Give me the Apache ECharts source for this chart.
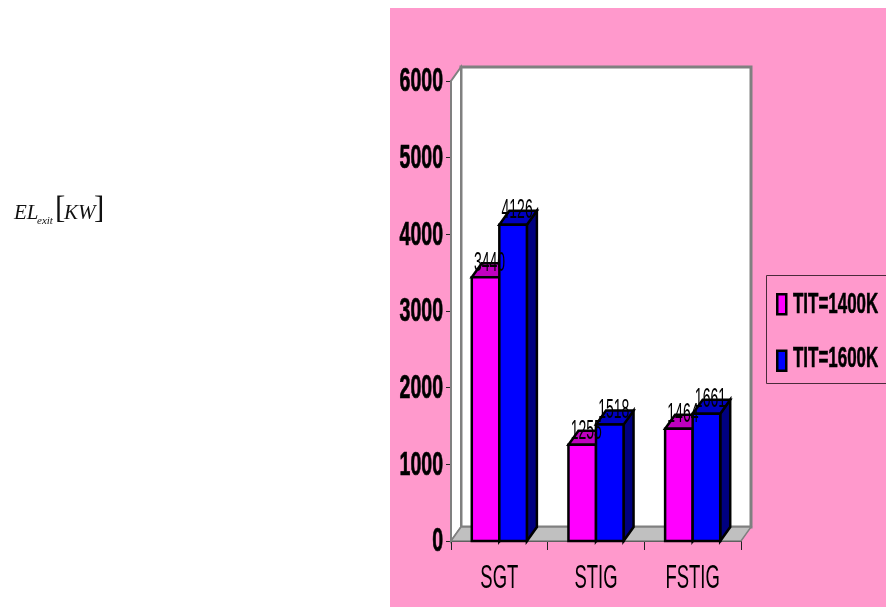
<!DOCTYPE html>
<html>
<head>
<meta charset="utf-8">
<style>html,body{margin:0;padding:0;background:#fff}#chart{width:886px;height:607px}</style>
<script src="https://cdn.jsdelivr.net/npm/echarts@6/dist/echarts.min.js"></script>
</head>
<body>
<div id="chart"></div>
<script>
// Exit exergy loss per cycle at two turbine inlet temperatures
const categories = ['SGT', 'STIG', 'FSTIG'];
const tit1400 = [3440, 1255, 1464];
const tit1600 = [4126, 1518, 1661];
const seriesNames = ['TIT=1400K', 'TIT=1600K'];
const yTicks = [0, 1000, 2000, 3000, 4000, 5000, 6000];

const DEPTH_X = 10, DEPTH_Y = -14;
const SANS = '"Liberation Sans",sans-serif';
const SERIF = '"Liberation Serif",serif';

// Back wall, side wall and floor of the 3D plot box
function renderBox(params, api) {
  const c = params.coordSys;
  const l = c.x, r = c.x + c.width, t = c.y, b = c.y + c.height;
  const dx = DEPTH_X, dy = DEPTH_Y;
  const gray = '#808080';
  return {
    type: 'group',
    children: [
      { type: 'rect', shape: { x: l + dx, y: t + dy, width: c.width, height: c.height },
        style: { fill: '#fff', stroke: gray, lineWidth: 3 } },
      { type: 'polygon', shape: { points: [[l, b], [l, t], [l + dx, t + dy], [l + dx, b + dy]] },
        style: { fill: '#fff', stroke: gray, lineWidth: 2 } },
      { type: 'polygon', shape: { points: [[l, b], [l + dx, b + dy], [r + dx, b + dy], [r, b]] },
        style: { fill: '#C0C0C0', stroke: gray, lineWidth: 1.5 } }
    ]
  };
}

// One extruded bar plus its value label, offset inside the category band
function makeBarRenderer(side, front, top, flank) {
  return function (params, api) {
    const value = api.value(1);
    const p = api.coord([api.value(0), value]);
    const base = api.coord([api.value(0), 0]);
    const w = api.size([1, 0])[0] * 0.285;
    const x0 = side < 0 ? p[0] - w : p[0];
    const x1 = x0 + w, y0 = p[1], y1 = base[1];
    const dx = DEPTH_X, dy = DEPTH_Y;
    const edge = { stroke: '#000', lineWidth: 2.5, lineJoin: 'miter' };
    return {
      type: 'group',
      children: [
        { type: 'polygon', shape: { points: [[x1, y0], [x1 + dx, y0 + dy], [x1 + dx, y1 + dy], [x1, y1]] },
          style: Object.assign({ fill: flank }, edge) },
        { type: 'polygon', shape: { points: [[x0, y0], [x0 + dx, y0 + dy], [x1 + dx, y0 + dy], [x1, y0]] },
          style: Object.assign({ fill: top }, edge) },
        { type: 'rect', shape: { x: x0, y: y0, width: w, height: y1 - y0 },
          style: Object.assign({ fill: front }, edge) },
        { type: 'text', x: x0 + w / 2 + 4, y: y0 - 14, scaleX: 0.5, z2: 100,
          style: { text: String(value), fill: '#000', align: 'center', verticalAlign: 'middle',
                   font: '28px ' + SANS } }
      ]
    };
  };
}

// Condensed tick labels, placed through the axis scales
function renderYLabel(params, api) {
  const p = api.coord([0, api.value(1)]);
  return { type: 'text', x: params.coordSys.x - 8, y: p[1] + 1, scaleX: 0.575,
    style: { text: String(api.value(1)), fill: '#000', stroke: '#000', lineWidth: 0.7,
             align: 'right', verticalAlign: 'middle', font: 'bold 34px ' + SANS } };
}
function renderXLabel(params, api) {
  const p = api.coord([api.value(0), 0]);
  return { type: 'text', x: p[0], y: p[1] + 38, scaleX: 0.56,
    style: { text: categories[api.value(0)], fill: '#000', align: 'center', verticalAlign: 'middle',
             font: '33px ' + SANS } };
}

const toPoints = values => values.map((v, i) => [i, v]);
const legendText = (name, y) => ({
  type: 'text', x: 793, y: y, scaleX: 0.565,
  style: { text: name, fill: '#000', stroke: '#000', lineWidth: 0.6,
           align: 'left', verticalAlign: 'middle', font: 'bold 30px ' + SANS }
});

const chart = echarts.init(document.getElementById('chart'), null, { renderer: 'canvas' });
chart.setOption({
  animation: false,
  backgroundColor: '#fff',
  graphic: [
    { type: 'rect', z: -10, shape: { x: 390, y: 8, width: 496, height: 599 }, style: { fill: '#FF99CC' } },
    { type: 'rect', z: -9, shape: { x: 766.5, y: 275.5, width: 125, height: 108 },
      style: { fill: 'transparent', stroke: '#4a2a3a', lineWidth: 1 } },
    legendText(seriesNames[0], 305),
    legendText(seriesNames[1], 359),
    { type: 'text', x: 14, y: 213, style: { text: 'EL', fill: '#111', verticalAlign: 'middle', font: 'italic 21px ' + SERIF } },
    { type: 'text', x: 37, y: 221, style: { text: 'exit', fill: '#111', verticalAlign: 'middle', font: 'italic 11px ' + SERIF } },
    { type: 'text', x: 55, y: 210, style: { text: '[', fill: '#111', verticalAlign: 'middle', font: '31px ' + SERIF } },
    { type: 'text', x: 64, y: 213, style: { text: 'KW', fill: '#111', verticalAlign: 'middle', font: 'italic 21px ' + SERIF } },
    { type: 'text', x: 94, y: 210, style: { text: ']', fill: '#111', verticalAlign: 'middle', font: '31px ' + SERIF } }
  ],
  grid: { left: 451, top: 81, width: 290, height: 460 },
  legend: {
    orient: 'vertical', left: 776, top: 293, itemGap: 34, itemWidth: 9, itemHeight: 20, padding: 0,
    icon: 'rect', formatter: () => ' ',
    data: [
      { name: seriesNames[0], itemStyle: { color: '#FF00FF', borderColor: '#000', borderWidth: 2.5 } },
      { name: seriesNames[1], itemStyle: { color: '#0000FF', borderColor: '#000', borderWidth: 2.5 } }
    ]
  },
  xAxis: {
    type: 'category', data: categories,
    axisLine: { show: true, lineStyle: { color: '#000', width: 2 } },
    axisTick: { show: true, alignWithLabel: false, length: 9, interval: 0, lineStyle: { color: '#222', width: 1 } },
    axisLabel: { show: false },
    splitLine: { show: false }
  },
  yAxis: {
    type: 'value', min: 0, max: 6000, interval: 1000,
    axisLine: { show: true, lineStyle: { color: '#808080', width: 2 } },
    axisTick: { show: true, length: 5, lineStyle: { color: '#222', width: 1 } },
    axisLabel: { show: false },
    splitLine: { show: false }
  },
  series: [
    { name: 'box', type: 'custom', z: 1, silent: true, renderItem: renderBox, data: [[0, 0]], encode: { x: 0, y: 1 } },
    { name: seriesNames[0], type: 'custom', z: 2, renderItem: makeBarRenderer(-1, '#FF00FF', '#C000C0', '#800080'),
      data: toPoints(tit1400), encode: { x: 0, y: 1 }, itemStyle: { color: '#FF00FF' } },
    { name: seriesNames[1], type: 'custom', z: 2, renderItem: makeBarRenderer(1, '#0000FF', '#0000C0', '#000080'),
      data: toPoints(tit1600), encode: { x: 0, y: 1 }, itemStyle: { color: '#0000FF' } },
    { name: 'yLabels', type: 'custom', z: 4, silent: true, renderItem: renderYLabel,
      data: yTicks.map(t => [0, t]), encode: { x: 0, y: 1 } },
    { name: 'xLabels', type: 'custom', z: 4, silent: true, renderItem: renderXLabel,
      data: categories.map((c, i) => [i, 0]), encode: { x: 0, y: 1 } }
  ]
});
</script>
</body>
</html>
